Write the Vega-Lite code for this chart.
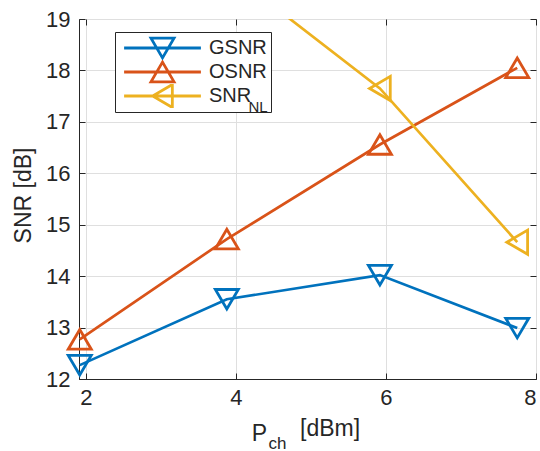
{
  "$schema": "https://vega.github.io/schema/vega-lite/v6.json",
  "width": 457,
  "height": 360,
  "autosize": "none",
  "padding": {"left": 79, "top": 19, "right": 4, "bottom": 72},
  "background": "white",
  "title": {
    "text": "[dBm]", "orient": "bottom", "anchor": "start", "frame": "group",
    "dx": 221, "offset": 0, "dy": -15, "fontSize": 23, "fontWeight": "normal",
    "font": "Liberation Sans", "color": "#262626", "baseline": "alphabetic"
  },
  "config": {
    "view": {"stroke": "#262626", "strokeWidth": 1},
    "font": "Liberation Sans",
    "axis": {
      "domainColor": "#262626",
      "tickColor": "#262626",
      "labelColor": "#262626",
      "titleColor": "#262626",
      "labelFont": "Liberation Sans",
      "titleFont": "Liberation Sans",
      "labelFontSize": 22,
      "titleFontSize": 23,
      "titleFontWeight": "normal",
      "gridColor": "#dfdfdf",
      "gridWidth": 1,
      "domainWidth": 1,
      "tickWidth": 1
    }
  },
  "data": {
    "values": [
      {"series": "GSNR", "x": 1.92, "y": 12.27},
      {"series": "GSNR", "x": 3.88, "y": 13.55},
      {"series": "GSNR", "x": 5.92, "y": 14.02},
      {"series": "GSNR", "x": 7.75, "y": 12.99},
      {"series": "OSNR", "x": 1.92, "y": 12.77},
      {"series": "OSNR", "x": 3.88, "y": 14.72},
      {"series": "OSNR", "x": 5.92, "y": 16.56},
      {"series": "OSNR", "x": 7.75, "y": 18.05},
      {"series": "SNR_NL", "x": 1.92, "y": 22.3},
      {"series": "SNR_NL", "x": 3.88, "y": 19.95},
      {"series": "SNR_NL", "x": 5.92, "y": 17.65},
      {"series": "SNR_NL", "x": 7.75, "y": 14.66}
    ]
  },
  "layer": [
    {
      "mark": {"type": "line", "strokeWidth": 2.7, "clip": true},
      "encoding": {
        "x": {
          "field": "x", "type": "quantitative",
          "scale": {"domain": [1.91, 8], "nice": false, "zero": false},
          "axis": {
            "values": [2, 4, 6, 8], "grid": true, "tickSize": -6, "labelPadding": 14,
            "title": "P", "titleX": 180, "titleAlign": "center", "titleY": 61, "titleBaseline": "alphabetic", "zindex": 0
          }
        },
        "y": {
          "field": "y", "type": "quantitative",
          "scale": {"domain": [12, 19], "nice": false, "zero": false},
          "axis": {
            "values": [12, 13, 14, 15, 16, 17, 18, 19], "grid": true, "tickSize": -6, "labelPadding": 15,
            "title": "SNR [dB]", "titleX": -56, "titleY": 176, "titleAlign": "center", "titleBaseline": "middle", "zindex": 0
          }
        },
        "color": {
          "field": "series", "type": "nominal",
          "scale": {"domain": ["GSNR", "OSNR", "SNR_NL"], "range": ["#0072BD", "#D95319", "#EDB120"]},
          "legend": null
        }
      }
    },
    {
      "mark": {"type": "point", "filled": false, "size": 529, "strokeWidth": 2.8, "opacity": 1},
      "encoding": {
        "x": {"field": "x", "type": "quantitative", "scale": {"domain": [1.91, 8], "nice": false, "zero": false}, "axis": null},
        "y": {"field": "y", "type": "quantitative", "scale": {"domain": [12, 19], "nice": false, "zero": false}, "axis": null},
        "color": {
          "field": "series", "type": "nominal",
          "scale": {"domain": ["GSNR", "OSNR", "SNR_NL"], "range": ["#0072BD", "#D95319", "#EDB120"]},
          "legend": null
        },
        "shape": {
          "field": "series", "type": "nominal",
          "scale": {"domain": ["GSNR", "OSNR", "SNR_NL"], "range": ["M-1,-0.85H1L0,0.85Z", "M-1,0.85H1L0,-0.85Z", "M0.9,-1.05V1.05L-0.9,0Z"]},
          "legend": null
        }
      }
    },
    {
      "transform": [{"filter": "datum.x > 100"}],
      "mark": {"type": "point", "filled": false, "strokeWidth": 2.8, "opacity": 1},
      "encoding": {
        "x": {
          "field": "x", "type": "quantitative",
          "scale": {"domain": [1.91, 8], "nice": false, "zero": false},
          "axis": {
            "orient": "top", "values": [2, 4, 6, 8], "labels": false, "grid": false, "domain": false,
            "tickSize": -6, "title": "ch", "titleFontSize": 17, "titleX": 198, "titleY": 429,
            "titleAlign": "center", "titleBaseline": "alphabetic", "zindex": 2
          }
        },
        "y": {
          "field": "y", "type": "quantitative",
          "scale": {"domain": [12, 19], "nice": false, "zero": false},
          "axis": {
            "orient": "right", "values": [12, 13, 14, 15, 16, 17, 18, 19], "labels": false, "grid": false, "domain": false,
            "tickSize": -6, "title": "NL", "titleFontSize": 15, "titleAngle": 0, "titleX": -288, "titleY": 92,
            "titleAlign": "left", "titleBaseline": "alphabetic", "zindex": 2
          }
        },
        "color": {
          "field": "series", "type": "nominal",
          "scale": {"domain": ["GSNR", "OSNR", "SNR_NL"], "range": ["#0072BD", "#D95319", "#EDB120"]},
          "legend": {
            "orient": "none", "legendX": 36, "legendY": 13, "title": null,
            "fillColor": "white", "strokeColor": "#262626", "padding": 4,
            "symbolSize": 576, "symbolOffset": 30, "labelOffset": 33, "rowPadding": 0, "clipHeight": 24,
            "symbolStrokeWidth": 2.8,
            "labelFontSize": 20, "labelColor": "#262626", "labelFont": "Liberation Sans",
            "labelExpr": "datum.label == 'SNR_NL' ? 'SNR' : datum.label == 'GSNR' ? 'GSNR\u00a0\u00a0' : datum.label",
            "zindex": 1
          }
        },
        "shape": {
          "field": "series", "type": "nominal",
          "scale": {
            "domain": ["GSNR", "OSNR", "SNR_NL"],
            "range": [
              "M-3.2,0H3.2M-0.96,-0.82H0.96L0,0.82Z",
              "M-3.2,0H3.2M-0.96,0.82H0.96L0,-0.82Z",
              "M-3.2,0H3.2M0.82,-0.96V0.96L-0.82,0Z"
            ]
          },
          "legend": {
            "orient": "none", "legendX": 36, "legendY": 13, "title": null,
            "fillColor": "white", "strokeColor": "#262626", "padding": 4,
            "symbolSize": 576, "symbolOffset": 30, "labelOffset": 33, "rowPadding": 0, "clipHeight": 24,
            "symbolStrokeWidth": 2.8,
            "labelFontSize": 20, "labelColor": "#262626", "labelFont": "Liberation Sans",
            "labelExpr": "datum.label == 'SNR_NL' ? 'SNR' : datum.label == 'GSNR' ? 'GSNR\u00a0\u00a0' : datum.label",
            "zindex": 1
          }
        }
      }
    }
  ],
  "resolve": {"scale": {"x": "independent", "y": "independent", "shape": "independent", "color": "independent"}}
}
